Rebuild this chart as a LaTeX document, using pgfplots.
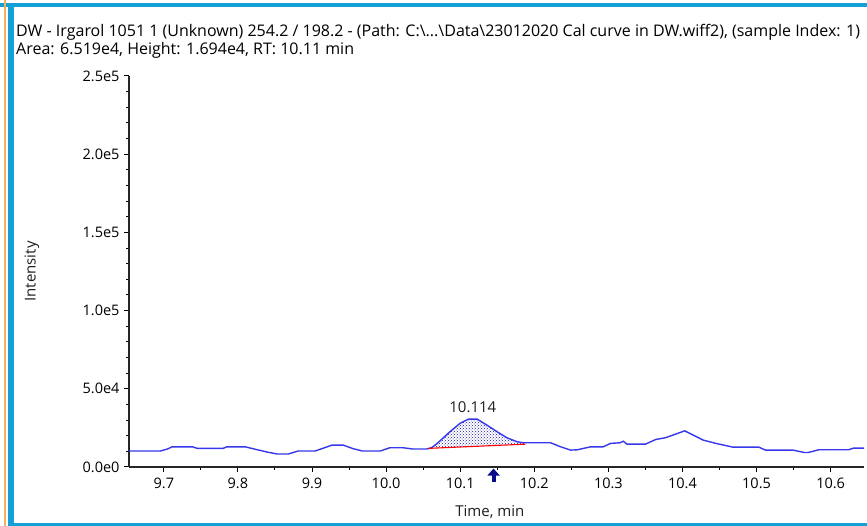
\documentclass[border=0pt]{standalone}
\usepackage{fontspec}
\setmainfont{Open Sans}
\usepackage{pgfplots}
\pgfplotsset{compat=1.18}
\usetikzlibrary{patterns,arrows.meta}
\definecolor{framecyan}{RGB}{20,160,215}
\definecolor{frameorange}{RGB}{245,175,90}
\definecolor{traceblue}{RGB}{55,55,235}
\definecolor{markblue}{RGB}{10,10,140}
\definecolor{txt}{RGB}{30,30,30}

\begin{document}
\begin{tikzpicture}[x=1pt,y=1pt,font=\fontsize{15}{17}\selectfont\color{txt}]
% window frame, 1pt = 1 px of the reference
\fill[white] (0,0) rectangle (867,526);
\fill[framecyan] (0,519) rectangle (867,523);
\fill[framecyan] (8,0) rectangle (14,523);
\fill[framecyan] (8,0) rectangle (867,3);
\fill[frameorange] (4,0) rectangle (5.5,526);
\node[anchor=west, inner sep=0pt, font=\fontsize{16}{18}\selectfont] at (16,494) {DW - Irgarol 1051 1 (Unknown) 254.2 / 198.2 - (Path: C:\textbackslash...\textbackslash Data\textbackslash 23012020 Cal curve in DW.wiff2), (sample Index: 1)};
\node[anchor=west, inner sep=0pt, font=\fontsize{16}{18}\selectfont] at (16,476) {Area: 6.519e4, Height: 1.694e4, RT: 10.11 min};

\begin{axis}[
    at={(129pt,59pt)}, anchor=south west,
    scale only axis, width=735pt, height=391pt,
    xmin=9.653, xmax=10.645, ymin=0, ymax=250000,
    axis x line*=bottom, axis y line*=left,
    axis line style={line width=1.1pt, black!85, -},
    xtick={9.7,9.8,9.9,10.0,10.1,10.2,10.3,10.4,10.5,10.6},
    xticklabels={9.7,9.8,9.9,10.0,10.1,10.2,10.3,10.4,10.5,10.6},
    minor x tick num=1,
    ytick={0,50000,100000,150000,200000,250000},
    yticklabels={0.0e0,5.0e4,1.0e5,1.5e5,2.0e5,2.5e5},
    minor y tick num=4,
    scaled y ticks=false,
    tick label style={font=\fontsize{14.5}{16}\selectfont},
    x tick label style={yshift=-2pt},
    y tick label style={xshift=-1pt},
    xtick align=outside, ytick align=outside,
    major tick length=5pt, minor tick length=3pt,
    every tick/.style={black, line width=1pt},
    xlabel={Time, min}, ylabel={Intensity},
    xlabel style={at={(axis description cs:0.491,-0.115)}, anchor=center},
    ylabel style={at={(axis description cs:-0.132,0.5)}, anchor=center, rotate=0},
    clip=false,
]
% integrated peak area
\addplot[draw=none, pattern=crosshatch dots, pattern color=markblue!70!traceblue] coordinates {
    (10.057,11900) (10.062,12500) (10.069,15100) (10.086,22500) (10.100,28000)
    (10.111,30600) (10.123,30600) (10.136,26800) (10.150,22500) (10.163,18700)
    (10.177,16100) (10.188,15500) (10.188,14600) (10.057,11900)};
% chromatogram trace
\addplot[traceblue, line width=1.4pt, mark=none] coordinates {
    (9.653,10200) (9.695,10200) (9.705,11500) (9.711,12900) (9.739,12900)
    (9.745,11900) (9.780,11900) (9.785,12900) (9.810,12900) (9.822,11500)
    (9.840,9500) (9.853,8300) (9.868,8300) (9.881,10200) (9.904,10200)
    (9.915,12000) (9.927,14000) (9.942,14000) (9.955,11800) (9.968,10200)
    (9.992,10200) (10.005,12300) (10.023,12300) (10.036,11500) (10.055,11500)
    (10.062,12500) (10.069,15100) (10.086,22500) (10.100,28000) (10.111,30600)
    (10.123,30600) (10.136,26800) (10.150,22500) (10.163,18700) (10.177,16100)
    (10.185,15500) (10.222,15500) (10.235,13000) (10.249,10800) (10.258,11000)
    (10.276,12900) (10.293,12900) (10.303,15100) (10.316,15500) (10.320,16500)
    (10.325,14600) (10.350,14600) (10.364,17600) (10.377,18700) (10.403,23100)
    (10.428,17200) (10.445,15100) (10.468,12700) (10.503,12700) (10.512,10800)
    (10.549,10800) (10.564,9300) (10.570,9300) (10.584,11000) (10.624,11000)
    (10.631,12100) (10.645,12100)};
% baseline of the integrated peak
\addplot[red, line width=1.1pt, mark=none] coordinates {(10.057,11900) (10.188,14600)};
\node at (axis cs:10.117,38000) {10.114};
\draw[markblue, line width=4pt, -{Triangle[width=12pt,length=7pt]}]
    (axis cs:10.145,-9500) -- (axis cs:10.145,-1000);
\end{axis}
\end{tikzpicture}
\end{document}
